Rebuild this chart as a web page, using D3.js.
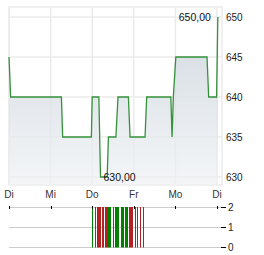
<!DOCTYPE html>
<html>
<head>
<meta charset="utf-8">
<script src="https://cdn.jsdelivr.net/npm/d3@7"></script>
<style>
  body { margin: 0; background: #fff; }
  text { font-family: "Liberation Sans", Arial, sans-serif; }
</style>
</head>
<body>
<div id="chart"></div>
<script>
// Wochentage und Achsen
var days = ['Di', 'Mi', 'Do', 'Fr', 'Mo', 'Di'];
var price_ticks = [630, 635, 640, 645, 650];
var vol_ticks = [0, 1, 2];

// Kurs (Zeit in Tagen ab erstem Di)
var price_time = [0, 0.04, 1.26, 1.29, 1.98, 2.0, 2.16, 2.2, 2.36, 2.39, 2.57, 2.62,
    2.87, 2.91, 3.27, 3.31, 3.89, 3.92, 3.95, 4.01, 4.76, 4.8, 4.99, 5.02];
var price_value = [645, 640, 640, 635, 635, 640, 640, 630, 630, 635, 635, 640,
    640, 635, 635, 640, 640, 635, 640, 645, 645, 640, 640, 650];

// Umsatz
var vol_time = [1.995, 2.067, 2.115, 2.139, 2.163, 2.188, 2.236, 2.26, 2.308, 2.332, 2.356,
    2.38, 2.404, 2.428, 2.5, 2.548, 2.572, 2.596, 2.62, 2.692, 2.716, 2.74, 2.788, 2.812, 2.837,
    2.885, 2.909, 2.933, 2.957, 3.029, 3.077, 3.149, 3.221];
var vol_value = [2, 2, 2, 2, 2, 2, 2, 2, 2, 2, 2,
    2, 2, 2, 2, 2, 2, 2, 2, 2, 2, 2, 2, 2, 2,
    2, 2, 2, 2, 2, 2, 2, 2];
var vol_dir = ['up', 'down', 'down', 'down', 'down', 'down', 'down', 'down', 'down', 'down', 'down',
    'up', 'up', 'up', 'up', 'up', 'up', 'up', 'up', 'up', 'up', 'up', 'up', 'up', 'up',
    'down', 'down', 'down', 'down', 'down', 'down', 'down', 'down'];

var chart_width = 264;
var chart_height = 255;
var svg = d3.select('#chart')
    .append('svg')
    .attr('width', chart_width)
    .attr('height', chart_height);

var x_scale = d3.scaleLinear().domain([0, 5.12]).range([9, 222]);
var y_scale = d3.scaleLinear().domain([629, 651.25]).range([185, 7]);
var v_scale = d3.scaleLinear().domain([0, 2]).range([247, 207]);

var fmt = d3.formatLocale({decimal: ',', thousands: '.', grouping: [3], currency: ['', '€']}).format('.2f');

// Gitter
var grid = svg.append('g').attr('stroke', '#ebebeb').attr('stroke-width', 1.5);
grid.selectAll('.hg')
    .data(price_ticks)
    .enter()
    .append('line')
    .attr('x1', 9).attr('x2', 222)
    .attr('y1', function (d) { return y_scale(d); })
    .attr('y2', function (d) { return y_scale(d); });
grid.selectAll('.vg')
    .data(days)
    .enter()
    .append('line')
    .attr('x1', function (d, i) { return x_scale(i); })
    .attr('x2', function (d, i) { return x_scale(i); })
    .attr('y1', 7).attr('y2', 185);
grid.append('rect')
    .attr('x', 9).attr('y', 7)
    .attr('width', 213).attr('height', 178)
    .attr('fill', 'none');

// Verlauf
var grad = svg.append('defs').append('linearGradient')
    .attr('id', 'fill')
    .attr('gradientUnits', 'userSpaceOnUse')
    .attr('x1', 0).attr('x2', 0)
    .attr('y1', y_scale(650)).attr('y2', 185);
grad.append('stop').attr('offset', 0).attr('stop-color', '#cbd4dc').attr('stop-opacity', 0.9);
grad.append('stop').attr('offset', 1).attr('stop-color', '#eef1f4').attr('stop-opacity', 0.7);

var pts = price_time.map(function (t, i) { return [t, price_value[i]]; });

var area = d3.area()
    .x(function (d) { return x_scale(d[0]); })
    .y0(185)
    .y1(function (d) { return y_scale(d[1]); });
svg.append('path')
    .datum(pts)
    .attr('d', area)
    .attr('fill', 'url(#fill)');

var line = d3.line()
    .x(function (d) { return x_scale(d[0]); })
    .y(function (d) { return y_scale(d[1]); });
svg.append('path')
    .datum(pts)
    .attr('d', line)
    .attr('fill', 'none')
    .attr('stroke', '#35913a')
    .attr('stroke-width', 1.3);

// Hoch / Tief
var max_i = d3.maxIndex(price_value);
var min_i = d3.minIndex(price_value);
svg.append('text')
    .attr('x', x_scale(price_time[max_i]) - 7)
    .attr('y', y_scale(price_value[max_i]) + 3.5)
    .attr('text-anchor', 'end')
    .attr('font-size', 10.5)
    .attr('fill', '#111')
    .text(fmt(price_value[max_i]));
svg.append('text')
    .attr('x', x_scale(price_time[min_i]) + 3)
    .attr('y', y_scale(price_value[min_i]) + 3.5)
    .attr('font-size', 10.5)
    .attr('fill', '#111')
    .text(fmt(price_value[min_i]));

// Y-Achse rechts
svg.selectAll('.py')
    .data(price_ticks)
    .enter()
    .append('text')
    .attr('x', 226)
    .attr('y', function (d) { return y_scale(d) + 3.5; })
    .attr('font-size', 10)
    .attr('fill', '#222')
    .text(function (d) { return d; });

// X-Achse
svg.selectAll('.xl')
    .data(days)
    .enter()
    .append('text')
    .attr('x', function (d, i) { return x_scale(i); })
    .attr('y', 197.5)
    .attr('text-anchor', 'middle')
    .attr('font-size', 10)
    .attr('fill', '#333')
    .text(function (d) { return d; });

// Umsatz-Gitter
svg.selectAll('.vg2')
    .data(vol_ticks)
    .enter()
    .append('line')
    .attr('x1', 9).attr('x2', 221)
    .attr('y1', function (d) { return v_scale(d) + 0.5; })
    .attr('y2', function (d) { return v_scale(d) + 0.5; })
    .attr('stroke', '#cccccc');

// Umsatz-Balken
svg.selectAll('.bar')
    .data(vol_time)
    .enter()
    .append('rect')
    .attr('x', function (d) { return Math.round(x_scale(d)); })
    .attr('y', function (d, i) { return v_scale(vol_value[i]); })
    .attr('width', 1)
    .attr('height', function (d, i) { return v_scale(0) - v_scale(vol_value[i]) + 0.5; })
    .attr('fill', function (d, i) { return vol_dir[i] === 'up' ? '#008000' : '#b22222'; });

// Ticks oben
svg.selectAll('.tk')
    .data(days)
    .enter()
    .append('line')
    .attr('x1', function (d, i) { return Math.round(x_scale(i)) + 0.5; })
    .attr('x2', function (d, i) { return Math.round(x_scale(i)) + 0.5; })
    .attr('y1', 206).attr('y2', 209)
    .attr('stroke', '#000');

// Umsatz-Achse rechts
svg.selectAll('.vt')
    .data(vol_ticks)
    .enter()
    .append('line')
    .attr('x1', 221).attr('x2', 226)
    .attr('y1', function (d) { return v_scale(d) + 0.5; })
    .attr('y2', function (d) { return v_scale(d) + 0.5; })
    .attr('stroke', '#000');
svg.selectAll('.vl')
    .data(vol_ticks)
    .enter()
    .append('text')
    .attr('x', 228)
    .attr('y', function (d) { return v_scale(d) + 4; })
    .attr('font-size', 10)
    .attr('fill', '#222')
    .text(function (d) { return d; });
</script>
</body>
</html>
